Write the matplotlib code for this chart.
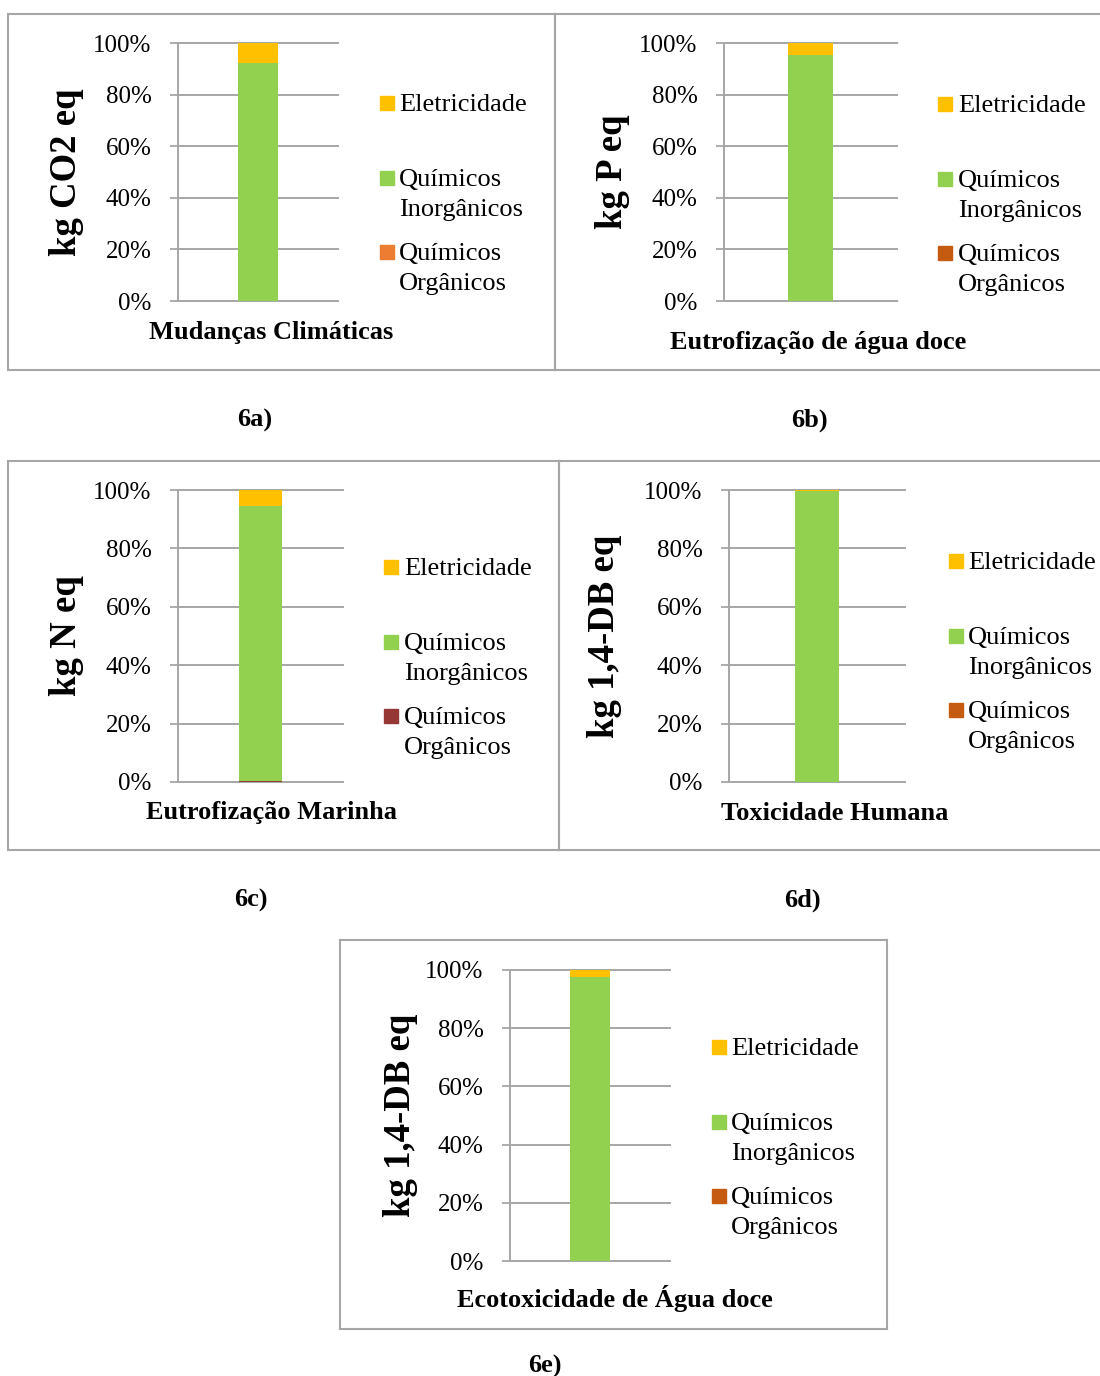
import matplotlib
matplotlib.use('Agg')
import matplotlib.pyplot as plt
from matplotlib.patches import Rectangle
from matplotlib.lines import Line2D

plt.rcParams['font.family'] = ['Liberation Serif', 'DejaVu Serif']

# dados (% de contribuicao)
categorias = ['Mudanças Climáticas', 'Eutrofização de água doce', 'Eutrofização Marinha',
              'Toxicidade Humana', 'Ecotoxicidade de Água doce']
unidades = ['kg CO2 eq', 'kg P eq', 'kg N eq', 'kg 1,4-DB eq', 'kg 1,4-DB eq']
paineis = ['6a)', '6b)', '6c)', '6d)', '6e)']
series = ['Eletricidade', 'Químicos\nInorgânicos', 'Químicos\nOrgânicos']
organicos = [0.0, 0.0, 0.4, 0.0, 0.0]
inorganicos = [92.2, 95.3, 94.2, 99.7, 97.7]
eletricidade = [7.8, 4.7, 5.4, 0.3, 2.3]
yticks = [0, 20, 40, 60, 80, 100]

cor_ele = '#FFC000'
cor_ino = '#92D050'
cor_org = ['#ED7D31', '#C55A11', '#953735', '#C55A11', '#C55A11']
cinza = '#A6A6A6'

W, H = 1100, 1376
fig = plt.figure(figsize=(W / 100, H / 100), dpi=100)

def fx(x): return x / W
def fy(y): return 1 - y / H

# posicoes em pixels: eixo (esq, topo, dir, base), ylabel x, xlabel, rotulo, legenda, caixa
eixos = [(178, 43, 338, 301), (724, 43, 897, 301), (178, 490, 343, 782),
         (729, 490, 905, 782), (510, 970, 670, 1261)]
ylab_x = [67, 613, 67, 605, 400]
xlab = [(271, 333), (818, 342), (272, 813), (835, 813), (615, 1298)]
rotulo = [(255, 420), (809, 420), (251, 900), (802, 900), (545, 1366)]
leg_px = [380, 938, 384, 949, 712]
leg_tx = [399, 958, 404, 968, 731]
leg_y = [103, 104, 567, 561, 1047]
caixas = [(8, 14, 555, 370, True), (555, 14, 1100, 370, False), (8, 461, 559, 850, True),
          (559, 461, 1100, 850, False), (340, 940, 887, 1329, True)]

for i in range(5):
    l, t, r, b = eixos[i]
    ax = fig.add_axes([fx(l), fy(b), fx(r) - fx(l), fy(t) - fy(b)])
    ax.bar(0, organicos[i], width=0.255, color=cor_org[i], zorder=3)
    ax.bar(0, inorganicos[i], width=0.255, bottom=organicos[i], color=cor_ino, zorder=3)
    ax.bar(0, eletricidade[i], width=0.255, bottom=organicos[i] + inorganicos[i], color=cor_ele, zorder=3)
    ax.set_xlim(-0.5, 0.5)
    ax.set_ylim(0, 100)
    ax.set_yticks(yticks)
    ax.set_yticklabels([f'{v}%' for v in yticks])
    ax.set_xticks([])
    ax.tick_params(axis='y', direction='out', length=6, width=1.3, color=cinza, pad=13, labelsize=18)
    ax.yaxis.grid(True, color=cinza, lw=1.4)
    for g in ax.get_ygridlines():
        g.set_clip_on(False)
    for s in ['top', 'right', 'bottom']:
        ax.spines[s].set_visible(False)
    ax.spines['left'].set_color(cinza)
    ax.spines['left'].set_linewidth(1.4)

    fig.text(fx(ylab_x[i]), fy((t + b) / 2), unidades[i], rotation=90, ha='center', va='center',
             fontsize=26.5, fontweight='bold')
    fig.text(fx(xlab[i][0]), fy(xlab[i][1]), categorias[i], ha='center', va='center',
             fontsize=19, fontweight='bold')
    fig.text(fx(rotulo[i][0]), fy(rotulo[i][1]), paineis[i], ha='center', va='center',
             fontsize=19, fontweight='bold')

    # legenda
    y0 = leg_y[i]
    cores = [cor_ele, cor_ino, cor_org[i]]
    ypatch = [y0, y0 + 75, y0 + 149]
    ytexto = [y0 + 2, y0 + 92, y0 + 166]
    for k in range(3):
        fig.add_artist(Rectangle((fx(leg_px[i]), fy(ypatch[k] + 7)), 14 / W, 14 / H,
                                 transform=fig.transFigure, color=cores[k]))
        fig.text(fx(leg_tx[i]), fy(ytexto[k]), series[k], ha='left', va='center',
                 fontsize=19, linespacing=1.42)

    # caixa
    cl, ct, cr, cb, dir_ = caixas[i]
    kw = dict(color=cinza, lw=1.5, transform=fig.transFigure)
    fig.add_artist(Line2D([fx(cl), fx(cr)], [fy(ct), fy(ct)], **kw))
    fig.add_artist(Line2D([fx(cl), fx(cr)], [fy(cb), fy(cb)], **kw))
    fig.add_artist(Line2D([fx(cl), fx(cl)], [fy(ct), fy(cb)], **kw))
    if dir_:
        fig.add_artist(Line2D([fx(cr), fx(cr)], [fy(ct), fy(cb)], **kw))

fig.savefig('out.png', dpi=100)
